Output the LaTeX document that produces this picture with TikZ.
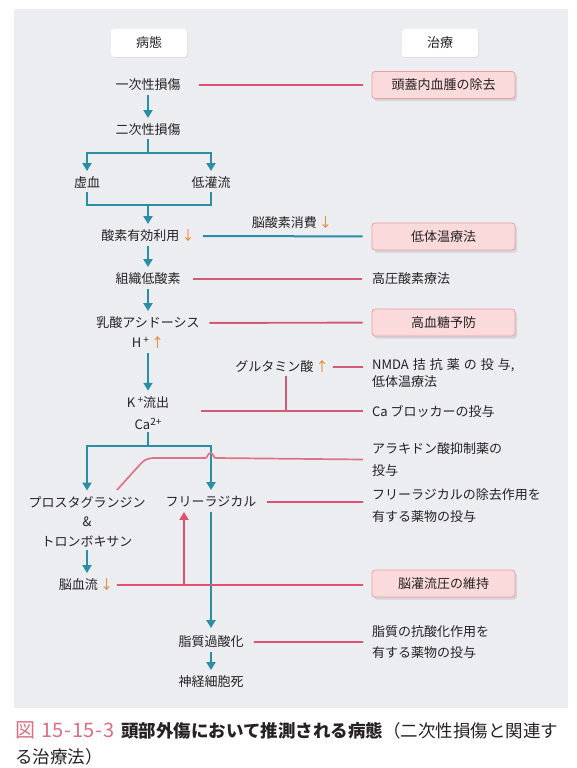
\documentclass[tikz,border=0pt]{standalone}
\usepackage{fontspec}
\setmainfont{Noto Sans CJK JP}
\usetikzlibrary{arrows.meta,shadows}
\definecolor{panel}{HTML}{ECEDF1}
\definecolor{flowblue}{HTML}{2A8EA5}
\definecolor{pinkA}{HTML}{E2506F}
\definecolor{pinkB}{HTML}{D05C76}
\definecolor{pinkC}{HTML}{DE7384}
\definecolor{arrowor}{HTML}{F07B1B}
\definecolor{boxfill}{HTML}{FBDADC}
\definecolor{boxline}{HTML}{EC9CA2}
\definecolor{ink}{HTML}{262223}
\definecolor{capred}{HTML}{DC6E80}
\tikzset{
  flow/.style={font=\fontsize{13}{15}\selectfont, text=ink, inner xsep=2pt, inner ysep=2.5pt, text height=11pt, text depth=1.5pt},
  flowmulti/.style={font=\fontsize{13}{#1}\selectfont, text=ink, inner xsep=2pt, inner ysep=2.5pt, align=center},
  rtext/.style={font=\fontsize{13}{#1}\selectfont, text=ink, inner sep=0pt, anchor=west, align=left},
  hdr/.style={font=\fontsize{13}{15}\selectfont, text=ink, fill=white, rounded corners=3pt, minimum width=76pt, minimum height=28pt, inner sep=0pt, drop shadow={opacity=0.12, shadow xshift=1pt, shadow yshift=-1pt}},
  rbox/.style={font=\fontsize{13}{15}\selectfont, text=ink, fill=boxfill, draw=boxline, line width=0.8pt, rounded corners=3pt, minimum width=143pt, minimum height=27pt, inner sep=0pt, drop shadow={opacity=0.22, shadow xshift=2pt, shadow yshift=-2.5pt}},
  flowline/.style={draw=flowblue, line width=2pt},
  flowarrow/.style={draw=flowblue, line width=2pt, -{Triangle[width=9pt,length=8pt]}, shorten >=3pt, shorten <=1pt},
  linkA/.style={draw=pinkA, line width=1.9pt},
  linkB/.style={draw=pinkB, line width=1.9pt},
}
\begin{document}
\begin{tikzpicture}[x=1pt,y=-1pt]
\useasboundingbox (0,0) rectangle (576,768);
\fill[panel] (14,9) rectangle (568,708);

% headers
\node[hdr] (hA) at (149,43) {病態};
\node[hdr] (hB) at (440,43) {治療};

% flow nodes
\node[flow] (n1) at (148,85) {一次性損傷};
\node[flow] (n2) at (148,130) {二次性損傷};
\coordinate (s1) at (148,153);
\node[flow] (n3a) at (87,183) {虚血};
\node[flow] (n3b) at (211,183) {低灌流};
\coordinate (m1) at (148,205);
\node[flow] (n4) at (148,236) {酸素有効利用\,{\color{arrowor}↓}};
\node[flow] (n5) at (148,279) {組織低酸素};
\node[flow] (n6a) at (148,323) {乳酸アシドーシス};
\node[flow] (n6b) at (148,343) {H\,{\fontsize{10}{10}\selectfont\raisebox{4pt}{+}}\,{\color{arrowor}↑}};
\node[flowmulti=22] (n7) at (148,413) {K\,{\fontsize{10}{10}\selectfont\raisebox{4pt}{+}}流出\\Ca{\fontsize{10}{10}\selectfont\raisebox{4pt}{2+}}};
\coordinate (s2) at (148,446);
\node[flowmulti=19.5] (n8a) at (87,521.5) {プロスタグランジン\\\&\\トロンボキサン};
\node[flow] (n8b) at (211,502) {フリーラジカル};
\node[flow] (n9) at (86,585) {脳血流\,{\color{arrowor}↓}};
\node[flow] (n10) at (211,642) {脂質過酸化};
\node[flow] (n11) at (211,682) {神経細胞死};
\node[flow] (glu) at (282,367) {グルタミン酸\,{\color{arrowor}↑}};
\node[flow] (o2) at (292,223) {脳酸素消費\,{\color{arrowor}↓}};

% right column
\node[rbox] (r1) at (443.5,85) {頭蓋内血腫の除去};
\node[rbox] (r2) at (443.5,236.5) {低体温療法};
\node[rtext=15] (t5) at (372,279) {高圧酸素療法};
\node[rbox] (r3) at (443.5,322.5) {高血糖予防};
\node[rtext=17] (t6) at (372,373.5) {NMDA\hspace{4pt}拮\hspace{4pt}抗\hspace{4pt}薬\hspace{4pt}の\hspace{4pt}投\hspace{4pt}与,\\低体温療法};
\node[rtext=15] (tCa) at (372,411) {Ca ブロッカーの投与};
\node[rtext=22] (t8) at (372,459.5) {アラキドン酸抑制薬の\\投与};
\node[rtext=22] (t9) at (372,506) {フリーラジカルの除去作用を\\有する薬物の投与};
\node[rbox] (r4) at (443.5,583.5) {脳灌流圧の維持};
\node[rtext=21] (t10) at (372,642.5) {脂質の抗酸化作用を\\有する薬物の投与};

% blue flow connectors
\draw[flowarrow] (n1) -- (n2);
\draw[flowline] (n2.south) -- (s1);
\draw[flowarrow, shorten <=0pt] (s1) -| (n3a);
\draw[flowarrow, shorten <=0pt] (s1) -| (n3b);
\draw[flowline] (n3a.south) |- (m1);
\draw[flowline] (n3b.south) |- (m1);
\draw[flowarrow, shorten <=0pt] (m1) -- (n4);
\draw[flowarrow] (n4) -- (n5);
\draw[flowarrow] (n5) -- (n6a);
\draw[flowarrow] (n6b) -- (n7);
\draw[flowline] (n7.south) -- (s2);
\draw[flowarrow, shorten <=0pt] (s2) -| (n8a);
\draw[flowarrow, shorten <=0pt] (s2) -| (n8b);
\draw[flowarrow] (n8a.south) -- (n8a.south |- n9.north);
\draw[flowarrow, shorten >=5pt] (n8b) -- (n10);
\draw[flowarrow] (n10) -- (n11);
\draw[flowline, shorten <=6pt, shorten >=9pt] (n4) -- (r2);

% pink connectors
\draw[linkA, shorten <=16.5pt, shorten >=9pt] (n1) -- (r1);
\draw[linkB, shorten <=10.5pt, shorten >=10pt] (n5) -- (t5);
\draw[linkB, shorten <=7.5pt, shorten >=9pt] (n6a) -- (r3);
\draw[linkB, shorten <=2pt, shorten >=9pt] (glu.east) -- (glu.east -| t6.west);
\coordinate (gj) at (286,411);
\draw[linkB] (gj |- glu.south) -- (gj);
\draw[linkB, shorten <=30pt, shorten >=9pt] (tCa.west -| n7.east) -- (tCa.west);
\draw[linkA, shorten <=8pt, shorten >=9pt] (n8b) -- (n8b -| t9.west);
\draw[linkA, shorten <=2pt, shorten >=9pt] (n9) -- (n9 -| r4.west);
\coordinate (pj) at (184,585);
\draw[linkA, -{Triangle[width=9pt,length=8pt]}, shorten >=1pt] (pj) -- (pj |- n8b.south);
\draw[linkA, shorten <=8.5pt, shorten >=9pt] (n10) -- (n10 -| t10.west);
\coordinate (c0) at (117,490);
\draw[draw=pinkC, line width=1.7pt] (c0) -- (140,464.5) .. controls (144,460) and (147,458) .. (155,458) -- (205.5,458) .. controls (207.5,458) and (207.5,453) .. (210.5,453) .. controls (213.5,453) and (213.5,458) .. (215.5,458) -- ([xshift=-9pt]t8.west);

% caption
\node[anchor=base west, inner sep=0pt, text=ink] (cap1) at (15,737) {{\fontsize{20}{22}\selectfont\color{capred}図\hspace{6pt}1\hspace{0.6pt}5\hspace{0.6pt}-\hspace{0.6pt}1\hspace{0.6pt}5\hspace{0.6pt}-\hspace{0.6pt}3}\hspace{7pt}{\fontsize{17.5}{20}\selectfont{\bfseries 頭部外傷において推測される病態}（二次性損傷と関連す}};
\node[anchor=base west, inner sep=0pt, text=ink] (cap2) at (15,763.5) {\fontsize{17.5}{20}\selectfont る治療法）};
\end{tikzpicture}
\end{document}
